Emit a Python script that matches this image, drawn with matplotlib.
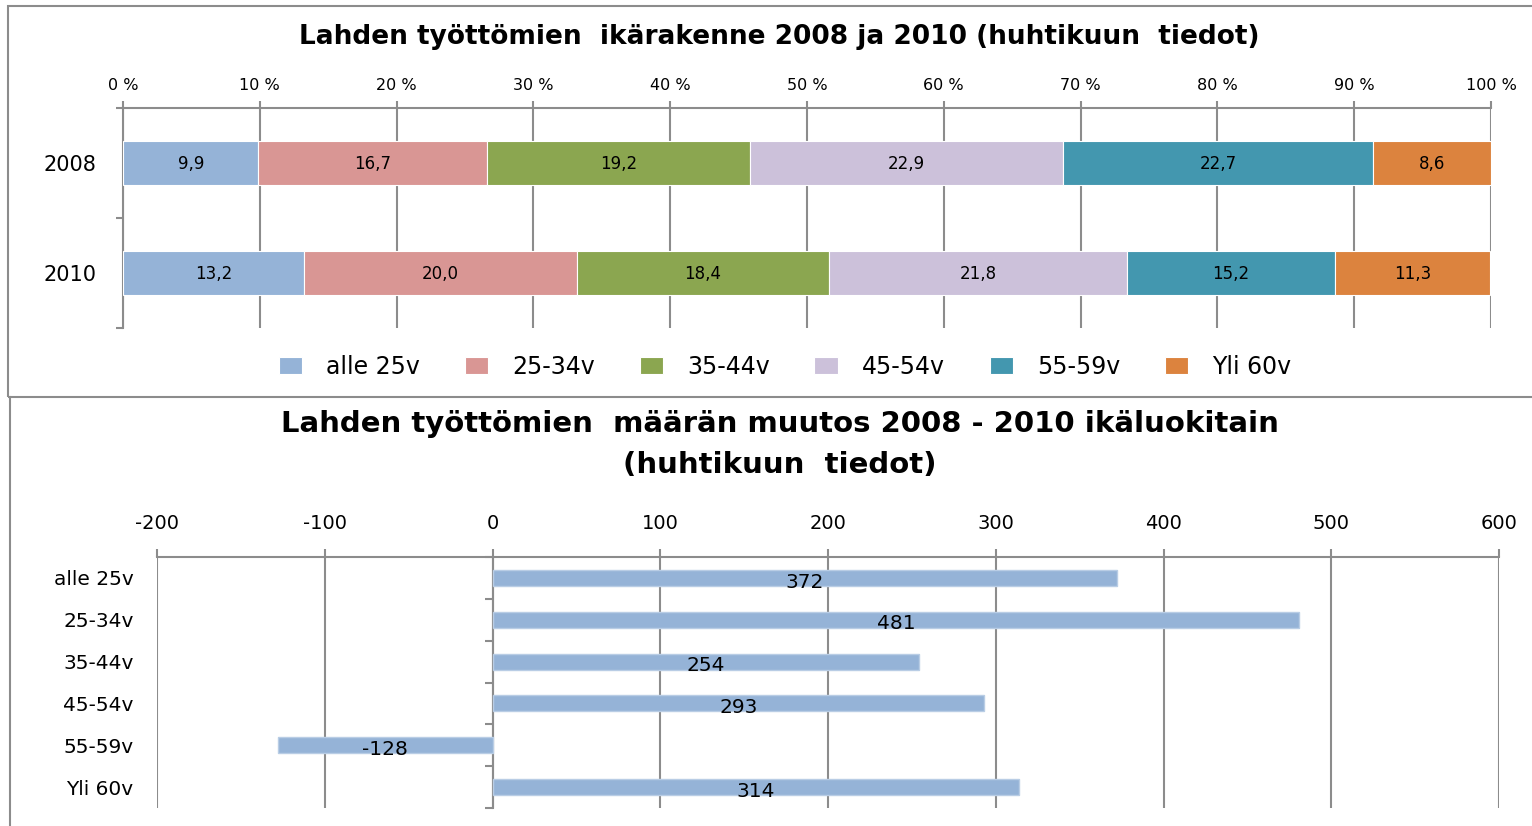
import numpy as np
import matplotlib
matplotlib.use('Agg')
import matplotlib.pyplot as plt
from matplotlib.patches import Rectangle
from matplotlib.lines import Line2D

plt.rcParams['axes.unicode_minus'] = False

# top chart: age structure (%)
years = ['2008', '2010']
groups = ['alle 25v', '25-34v', '35-44v', '45-54v', '55-59v', 'Yli 60v']
share_2008 = [9.9, 16.7, 19.2, 22.9, 22.7, 8.6]
share_2010 = [13.2, 20.0, 18.4, 21.8, 15.2, 11.3]
colors = ['#95B3D7', '#D99694', '#8BA650', '#CCC1DA', '#4397AF', '#DC833E']

# bottom chart: change 2008 -> 2010
change = [372, 481, 254, 293, -128, 314]

grid_c = '#8c8c8c'
W, H = 1532, 826

fig = plt.figure(figsize=(W / 100, H / 100), dpi=100)

# ---------- top chart ----------
ax1 = fig.add_axes([123 / W, 1 - 328 / H, (1491 - 123) / W, 220 / H])
shares = np.array([share_2008, share_2010])
y = np.arange(len(years))
left = np.zeros(len(years))
handles = []
for i, g in enumerate(groups):
    bc = ax1.barh(y, shares[:, i], left=left, height=0.4, color=colors[i],
                  edgecolor='white', linewidth=0.8, label=g, zorder=3)
    txt = ax1.bar_label(bc, labels=[f'{v:.1f}'.replace('.', ',') for v in shares[:, i]],
                        label_type='center', fontsize=12, color='black')
    for t in txt:
        t.xyann = (0, -1)
    handles.append(bc)
    left += shares[:, i]

ax1.set_xlim(0, 100)
ax1.set_ylim(1.5, -0.5)
ax1.set_xticks(np.arange(0, 101, 10))
ax1.set_xticklabels([f'{v} %' for v in range(0, 101, 10)], fontsize=11.5)
ax1.xaxis.tick_top()
ax1.tick_params(axis='x', length=5, width=1.5, color=grid_c, pad=6)
ax1.set_yticks(y)
ax1.set_yticklabels(years, fontsize=15)
ax1.set_yticks([-0.5, 0.5, 1.5], minor=True)
ax1.tick_params(axis='y', which='major', length=0, pad=19)
ax1.tick_params(axis='y', which='minor', length=5, width=1.5, color=grid_c)
ax1.grid(axis='x', color=grid_c, linewidth=1.5, zorder=0)
ax1.set_axisbelow(True)
for s in ['right', 'bottom']:
    ax1.spines[s].set_visible(False)
for s in ['top', 'left']:
    ax1.spines[s].set_color(grid_c)
    ax1.spines[s].set_linewidth(1.5)

fig.text(779 / W, 1 - 37 / H,
         'Lahden työttömien  ikärakenne 2008 ja 2010 (huhtikuun  tiedot)',
         ha='center', va='center', fontsize=19, fontweight='bold')

fig.legend(handles=handles, labels=groups, loc='center', ncol=6,
           bbox_to_anchor=(785 / W, 1 - 367 / H), frameon=False, fontsize=17,
           handlelength=1.0, handleheight=0.7, handletextpad=1.0,
           columnspacing=1.9)

# ---------- bottom chart ----------
ax2 = fig.add_axes([157 / W, 1 - 808 / H, (1499 - 157) / W, 251 / H])
yy = np.arange(len(groups))
bars = ax2.barh(yy, change, height=0.38, color='#95B3D7',
                edgecolor='#B9CDE5', linewidth=1, zorder=3)
txt = ax2.bar_label(bars, labels=[str(v) for v in change], label_type='center',
                    fontsize=14.5, color='black')
for t in txt:
    t.xyann = (0, -3)
ax2.set_xlim(-200, 600)
ax2.set_ylim(len(groups) - 0.5, -0.5)
ax2.set_xticks(np.arange(-200, 601, 100))
ax2.xaxis.tick_top()
ax2.tick_params(axis='x', labelsize=14, length=6, width=1.5, color=grid_c, pad=11)
ax2.set_yticks(yy)
ax2.set_yticklabels(groups, fontsize=14.5)
ax2.tick_params(axis='y', length=0, pad=17)
ax2.grid(axis='x', color=grid_c, linewidth=1.5, zorder=0)
ax2.set_axisbelow(True)
for s in ['right', 'bottom', 'left']:
    ax2.spines[s].set_visible(False)
ax2.spines['top'].set_color(grid_c)
ax2.spines['top'].set_linewidth(1.5)

# category axis sits at x = 0
sec = ax2.secondary_yaxis(0, transform=ax2.transData)
sec.set_yticks(np.arange(-0.5, len(groups), 1.0))
sec.tick_params(axis='y', length=6, width=1.5, color=grid_c, labelleft=False,
                labelright=False)
sec.spines['left'].set_color(grid_c)
sec.spines['left'].set_linewidth(1.5)

fig.text(780 / W, 1 - 424 / H,
         'Lahden työttömien  määrän muutos 2008 - 2010 ikäluokitain',
         ha='center', va='center', fontsize=21, fontweight='bold')
fig.text(780 / W, 1 - 465 / H, '(huhtikuun  tiedot)',
         ha='center', va='center', fontsize=21, fontweight='bold')

# chart frames
fig.patches.append(Rectangle((8 / W, 1 - 397 / H), 1.0, (397 - 6) / H,
                             transform=fig.transFigure, fill=False,
                             edgecolor='#8c8c8c', linewidth=1.5))
fig.lines.append(Line2D([10 / W, 10 / W], [0, 1 - 397 / H],
                        transform=fig.transFigure, color='#8c8c8c',
                        linewidth=1.5))

fig.savefig('out.png', dpi=100)
